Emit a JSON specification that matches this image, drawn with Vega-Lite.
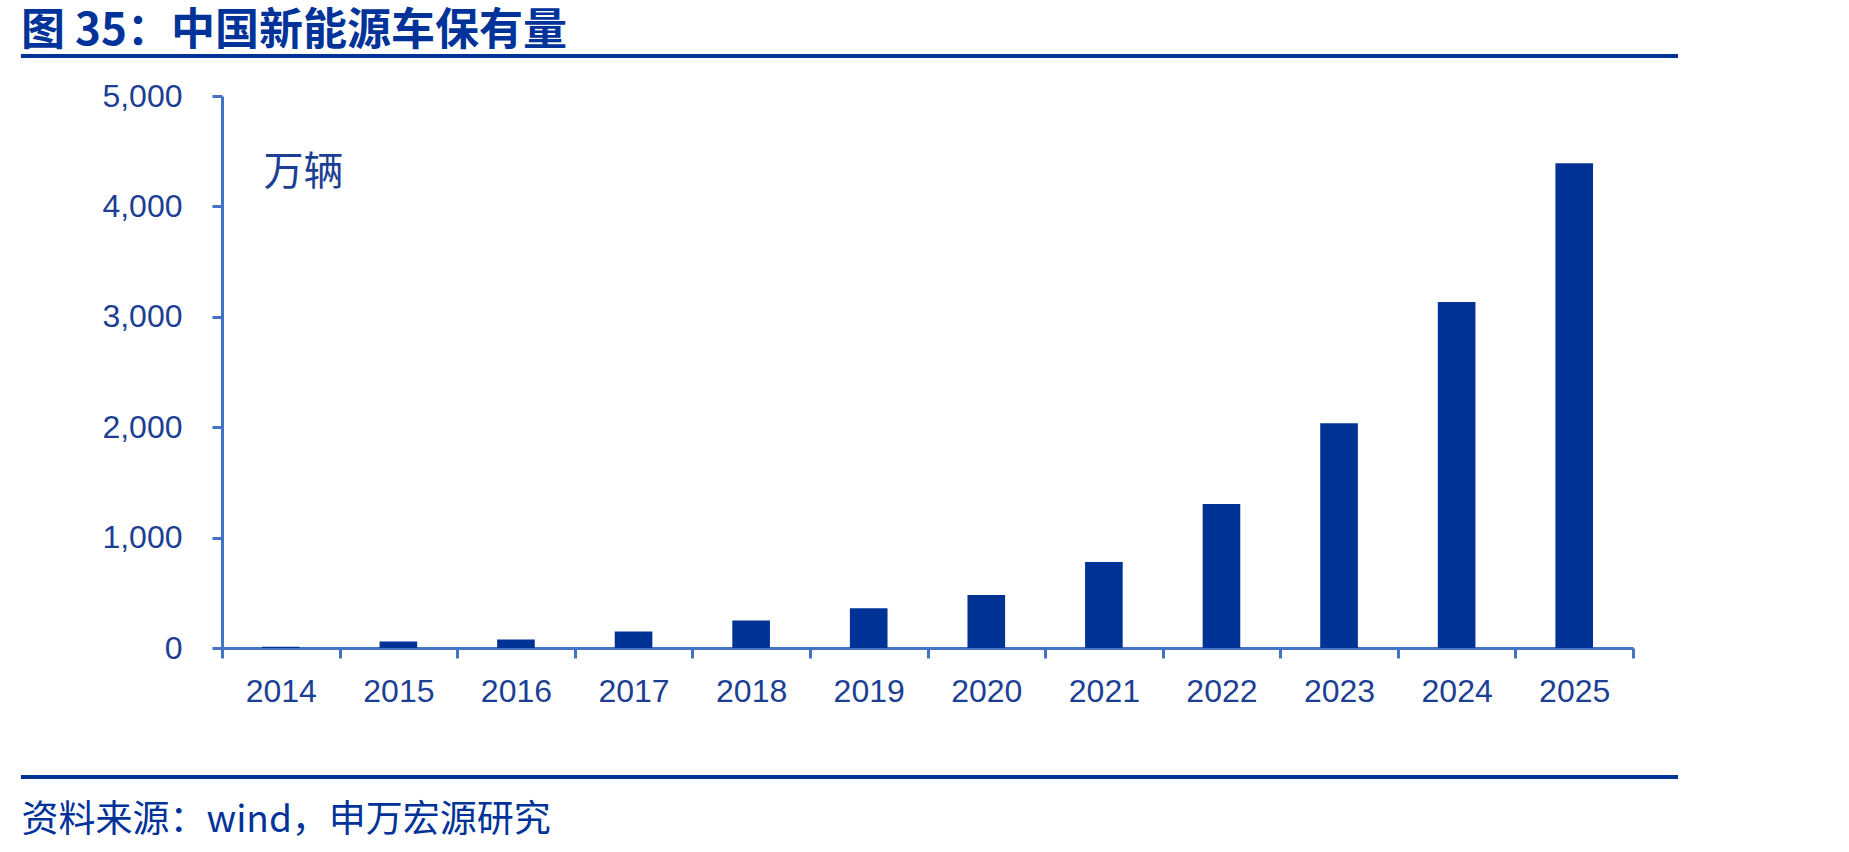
{
  "$schema": "https://vega.github.io/schema/vega-lite/v6.json",
  "width": 1411,
  "height": 552,
  "autosize": {"type": "none"},
  "padding": {"left": 222, "top": 96, "right": 216, "bottom": 204},
  "background": "white",
  "title": {
    "text": "图 35：中国新能源车保有量",
    "anchor": "start",
    "frame": "group",
    "font": "Noto Sans CJK SC",
    "fontSize": 44,
    "fontWeight": "bold",
    "color": "#003399",
    "baseline": "middle",
    "dx": -201,
    "offset": 0,
    "dy": 22
  },
  "config": {
    "view": {"stroke": null},
    "axis": {"grid": false}
  },
  "resolve": {"scale": {"x": "independent"}},
  "layer": [
    {
      "data": {
        "values": [
          {"year": "2014", "value": 12},
          {"year": "2015", "value": 58},
          {"year": "2016", "value": 76},
          {"year": "2017", "value": 150},
          {"year": "2018", "value": 250},
          {"year": "2019", "value": 360},
          {"year": "2020", "value": 480},
          {"year": "2021", "value": 780},
          {"year": "2022", "value": 1305},
          {"year": "2023", "value": 2035},
          {"year": "2024", "value": 3135},
          {"year": "2025", "value": 4390}
        ]
      },
      "mark": {"type": "bar", "width": {"band": 0.32}, "color": "#003296"},
      "encoding": {
        "x": {
          "field": "year",
          "type": "ordinal",
          "scale": {"paddingInner": 0, "paddingOuter": 0},
          "axis": {
            "title": "资料来源：wind，申万宏源研究",
            "titleFont": "Noto Sans CJK SC",
            "titleFontSize": 37,
            "titleFontWeight": "normal",
            "titleColor": "#003399",
            "titleAnchor": null,
            "titleAlign": "left",
            "titleBaseline": "middle",
            "titleX": -201,
            "titleY": 172,
            "labelAngle": 0,
            "labelFont": "Liberation Sans",
            "labelFontSize": 32,
            "labelColor": "#1c3f94",
            "labelPadding": 18,
            "tickBand": "extent",
            "tickSize": 10,
            "tickWidth": 3,
            "tickColor": "#4472c4",
            "domainColor": "#4472c4",
            "domainWidth": 3
          }
        },
        "y": {
          "field": "value",
          "type": "quantitative",
          "scale": {"domain": [0, 5000], "nice": false},
          "axis": {
            "values": [0, 1000, 2000, 3000, 4000, 5000],
            "format": ",d",
            "title": "万辆",
            "titleFont": "Noto Sans CJK SC",
            "titleFontSize": 40,
            "titleFontWeight": "normal",
            "titleColor": "#1c3f94",
            "titleAngle": 0,
            "titleAnchor": null,
            "titleAlign": "left",
            "titleBaseline": "middle",
            "titleX": 41,
            "titleY": 76,
            "labelFont": "Liberation Sans",
            "labelFontSize": 32,
            "labelColor": "#1c3f94",
            "labelPadding": 30,
            "tickSize": 10,
            "tickWidth": 3,
            "tickColor": "#4472c4",
            "domainColor": "#4472c4",
            "domainWidth": 3
          }
        }
      }
    },
    {
      "data": {"values": [{}]},
      "mark": {"type": "rule", "strokeWidth": 4, "color": "#003399", "clip": false},
      "encoding": {
        "x": {"datum": -0.1425, "type": "quantitative", "scale": {"domain": [0, 1]}, "axis": null},
        "x2": {"datum": 1.0319},
        "y": {"datum": 5362, "type": "quantitative"}
      }
    },
    {
      "data": {"values": [{}]},
      "mark": {"type": "rule", "strokeWidth": 4, "color": "#003399", "clip": false},
      "encoding": {
        "x": {"datum": -0.1425, "type": "quantitative", "scale": {"domain": [0, 1]}, "axis": null},
        "x2": {"datum": 1.0319},
        "y": {"datum": -1168, "type": "quantitative"}
      }
    }
  ]
}
